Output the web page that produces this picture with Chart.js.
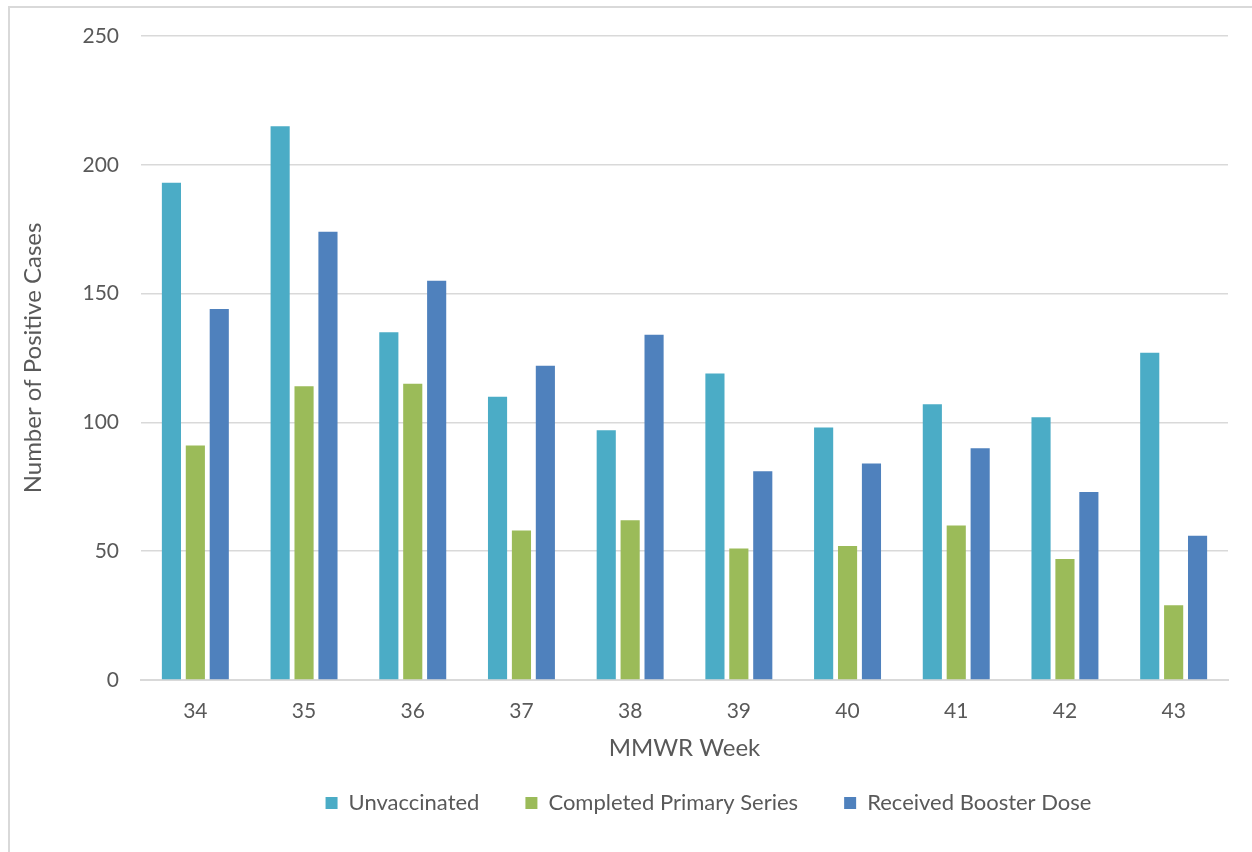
<!DOCTYPE html>
<html>
<head>
<meta charset="utf-8">
<script src="https://cdn.jsdelivr.net/npm/chart.js@4"></script>
<style>
  html, body { margin: 0; padding: 0; background: #fff; }
  #frame { position: absolute; left: 8px; top: 6px; width: 1300px; height: 900px; border: 2px solid #d9d9d9; box-sizing: border-box; }
  #wrap { position: absolute; left: 0; top: 0; width: 1252px; height: 852px; }
</style>
</head>
<body>
<div id="frame"></div>
<div id="wrap"><canvas id="chart"></canvas></div>
<script>
// MMWR weeks and positive case counts
const weeks = ['34', '35', '36', '37', '38', '39', '40', '41', '42', '43'];
const unvaccinated = [193, 215, 135, 110, 97, 119, 98, 107, 102, 127];
const completedPrimary = [91, 114, 115, 58, 62, 51, 52, 60, 47, 29];
const boosterDose = [144, 174, 155, 122, 134, 81, 84, 90, 73, 56];
const yTicks = [0, 50, 100, 150, 200, 250];

const fontFamily = 'Lato, "Open Sans", sans-serif';
const textColor = '#595959';

// the legend sits a bit right of centre in the original
const legendShift = {
    id: 'legendShift',
    afterLayout(chart) {
        const lg = chart.legend;
        if (lg) {
            lg.left += 85;
            lg.right += 85;
        }
    }
};

const ctx = document.getElementById('chart').getContext('2d');
const chart = new Chart(ctx, {
    type: 'bar',
    data: {
        labels: weeks,
        datasets: [
            { label: 'Unvaccinated', data: unvaccinated, backgroundColor: '#4BACC6' },
            { label: 'Completed Primary Series', data: completedPrimary, backgroundColor: '#9BBB59' },
            { label: 'Received Booster Dose', data: boosterDose, backgroundColor: '#4F81BD' }
        ]
    },
    options: {
        responsive: true,
        maintainAspectRatio: false,
        animation: false,
        categoryPercentage: 0.66,
        barPercentage: 0.8,
        layout: { padding: { left: 19, right: 24, top: 36, bottom: 28 } },
        plugins: {
            tooltip: { enabled: false },
            legend: {
                position: 'bottom',
                labels: {
                    color: textColor,
                    font: { family: fontFamily, size: 22 },
                    boxWidth: 12,
                    boxHeight: 12,
                    padding: 46
                }
            }
        },
        scales: {
            x: {
                grid: { display: false, drawTicks: false },
                border: { color: '#d9d9d9', width: 2 },
                ticks: { color: textColor, font: { family: fontFamily, size: 21 }, padding: 19 },
                title: { display: true, text: 'MMWR Week', color: textColor, font: { family: fontFamily, size: 24 }, padding: { top: 0, bottom: -17 } },
                afterFit: function(scale) { scale.height = 66; }
            },
            y: {
                min: 0,
                max: 250,
                afterBuildTicks: function(scale) { scale.ticks = yTicks.map(v => ({ value: v })); },
                grid: { color: '#d9d9d9', lineWidth: 1.5, drawTicks: false },
                border: { display: false },
                ticks: { color: textColor, font: { family: fontFamily, size: 21 }, padding: 22 },
                title: { display: true, text: 'Number of Positive Cases', color: textColor, font: { family: fontFamily, size: 24 }, padding: 0 },
                afterFit: function(scale) { scale.width = 122; }
            }
        }
    },
    plugins: [legendShift]
});
</script>
</body>
</html>
